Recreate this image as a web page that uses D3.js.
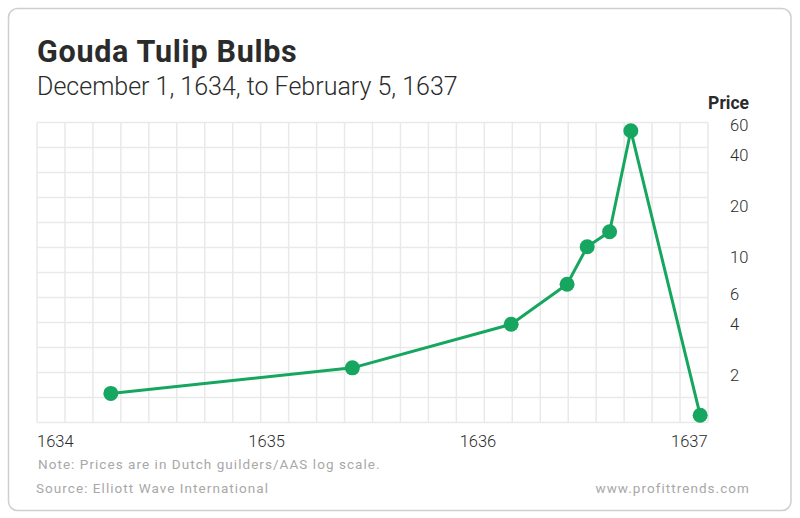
<!DOCTYPE html>
<html>
<head>
<meta charset="utf-8">
<script src="https://cdn.jsdelivr.net/npm/d3@7"></script>
<style>
  body { margin: 0; background: #fff; }
  svg { display: block; font-family: Roboto, "Noto Sans", sans-serif; }
</style>
</head>
<body>
<svg width="800" height="518"></svg>
<script>
// dates as fractional years, prices in guilders
const dates = [1634.33, 1635.41, 1636.12, 1636.37, 1636.46, 1636.56, 1636.655, 1636.965]
const prices = [1.56, 2.21, 4.0, 6.9, 11.5, 14.1, 55.8, 1.16]
const yearLabels = ['1634', '1635', '1636', '1637']
const priceTicks = [2, 4, 6, 10, 20, 40, 60]

const green = '#17a65f'

const svg = d3.select('svg')
const width = parseFloat(svg.attr('width'))
const height = parseFloat(svg.attr('height'))

const plot = { left: 37, right: 708, top: 122.5, bottom: 422.5 }

// card
svg.append('rect')
    .attr('x', 8.5).attr('y', 8.5)
    .attr('width', width - 17.5).attr('height', 502)
    .attr('rx', 9)
    .attr('fill', '#fff')
    .attr('stroke', '#cfcfcf')
    .attr('stroke-width', 1.5)

svg.append('text')
    .attr('x', 37).attr('y', 62)
    .attr('font-size', 30.5).attr('font-weight', 700)
    .attr('letter-spacing', 0.7)
    .attr('fill', '#2b2b2b')
    .text('Gouda Tulip Bulbs')

svg.append('text')
    .attr('x', 37).attr('y', 95)
    .attr('font-size', 25).attr('font-weight', 300)
    .attr('fill', '#2b2b2b')
    .text('December 1, 1634, to February 5, 1637')

const x = d3.scaleLinear()
    .domain([1634, 1637])
    .range([plot.left, plot.right])

const y = d3.scaleLog()
    .domain([1.05, 62.4])
    .range([plot.bottom, plot.top])

// grid: 8 columns per year, 12 even rows
const gridCols = d3.range(0, 25).map(i => 1634 + i / 8)
const rowScale = d3.scaleLinear().domain([0, 12]).range([plot.bottom, plot.top])

const grid = svg.append('g').attr('stroke', '#e9e9e9').attr('stroke-width', 1.5)
grid.selectAll('.v').data(gridCols).join('line')
    .attr('x1', d => x(d)).attr('x2', d => x(d))
    .attr('y1', plot.top).attr('y2', plot.bottom)
grid.selectAll('.h').data(d3.range(13)).join('line')
    .attr('x1', plot.left).attr('x2', plot.right)
    .attr('y1', d => rowScale(d)).attr('y2', d => rowScale(d))

// y axis on the right
const yAxis = svg.append('g')
    .attr('transform', `translate(${plot.right + 14},0)`)
    .call(d3.axisRight(y).tickValues(priceTicks).tickSize(0).tickPadding(8).tickFormat(d3.format('d')))
yAxis.select('.domain').remove()
yAxis.selectAll('text')
    .attr('font-family', 'Roboto, sans-serif')
    .attr('font-size', 16.5).attr('font-weight', 300)
    .attr('fill', '#2b2b2b')

svg.append('text')
    .attr('x', 749).attr('y', 109)
    .attr('text-anchor', 'end')
    .attr('font-size', 17.5).attr('font-weight', 700)
    .attr('fill', '#2b2b2b')
    .text('Price')

// x labels spread edge to edge
const labelX = d3.scalePoint()
    .domain(yearLabels)
    .range([plot.left, plot.right - 37])
svg.selectAll('.year').data(yearLabels).join('text')
    .attr('x', d => labelX(d))
    .attr('y', 447)
    .attr('font-size', 16.5).attr('font-weight', 300)
    .attr('fill', '#2b2b2b')
    .text(d => d)

// line and points
const pts = dates.map((d, i) => ({ date: d, price: prices[i] }))

svg.append('path')
    .datum(pts)
    .attr('fill', 'none')
    .attr('stroke', green)
    .attr('stroke-width', 3)
    .attr('stroke-linejoin', 'round')
    .attr('d', d3.line().x(d => x(d.date)).y(d => y(d.price)))

svg.selectAll('.pt').data(pts).join('circle')
    .attr('cx', d => x(d.date))
    .attr('cy', d => y(d.price))
    .attr('r', 7.5)
    .attr('fill', green)

// footer
const foot = svg.append('g')
    .attr('font-size', 13.5)
    .attr('fill', '#a8a8a8')
    .attr('letter-spacing', 1.05)
foot.append('text').attr('x', 38).attr('y', 469)
    .text('Note: Prices are in Dutch guilders/AAS log scale.')
foot.append('text').attr('x', 36).attr('y', 493)
    .text('Source: Elliott Wave International')
foot.append('text').attr('x', 750).attr('y', 493)
    .attr('text-anchor', 'end')
    .text('www.profittrends.com')
</script>
</body>
</html>
